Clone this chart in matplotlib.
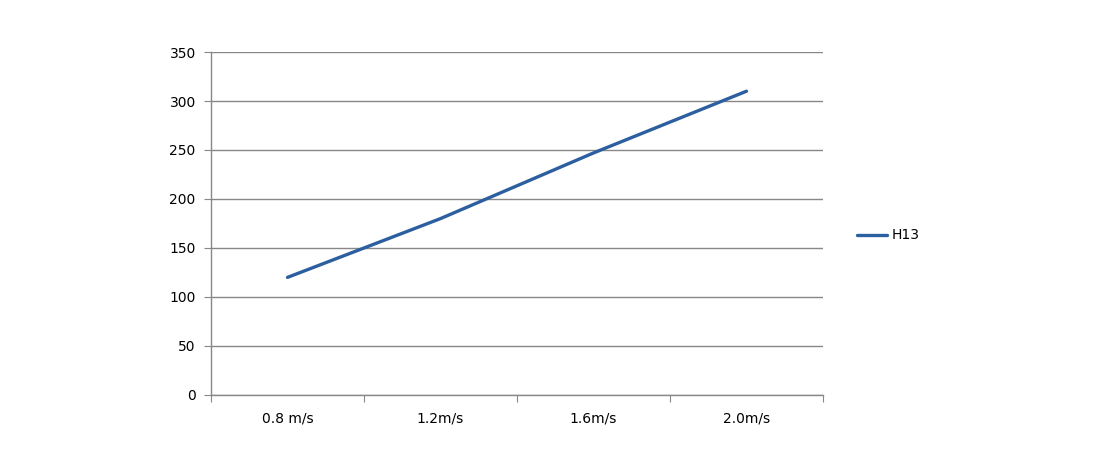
import matplotlib.pyplot as plt
import numpy as np

categories = ['0.8 m/s', '1.2m/s', '1.6m/s', '2.0m/s']
h13 = [120, 180, 247, 310]
yticks = [0, 50, 100, 150, 200, 250, 300, 350]

fig = plt.figure(figsize=(11, 4.66), dpi=100)
ax = fig.add_axes([0.1918, 0.1524, 0.5564, 0.736])

x = np.arange(len(categories))
ax.plot(x, h13, color='#2c5f9f', linewidth=2.4, solid_capstyle='round', label='H13')

ax.set_xlim(-0.5, len(categories) - 0.5)
ax.set_ylim(0, 350)
ax.set_yticks(yticks)
ax.grid(axis='y', color='#888888', linewidth=1.0)
ax.set_axisbelow(True)

# category boundaries get the tick marks, names sit in between
ax.set_xticks(np.arange(len(categories) + 1) - 0.5)
ax.set_xticklabels([])
ax.set_xticks(x, minor=True)
ax.set_xticklabels(categories, minor=True)
ax.tick_params(axis='x', which='minor', length=0, pad=12, labelsize=10)
ax.tick_params(axis='x', which='major', length=5, color='#888888')
ax.tick_params(axis='y', length=5, color='#888888', labelsize=10, pad=6)

for s in ['top', 'right']:
    ax.spines[s].set_visible(False)
for s in ['left', 'bottom']:
    ax.spines[s].set_color('#888888')
    ax.spines[s].set_linewidth(1.0)

ax.legend(loc='center left', bbox_to_anchor=(1.035, 0.465), frameon=False,
          handlelength=2.2, fontsize=10, handletextpad=0.3)

plt.savefig('out.png', dpi=100)
